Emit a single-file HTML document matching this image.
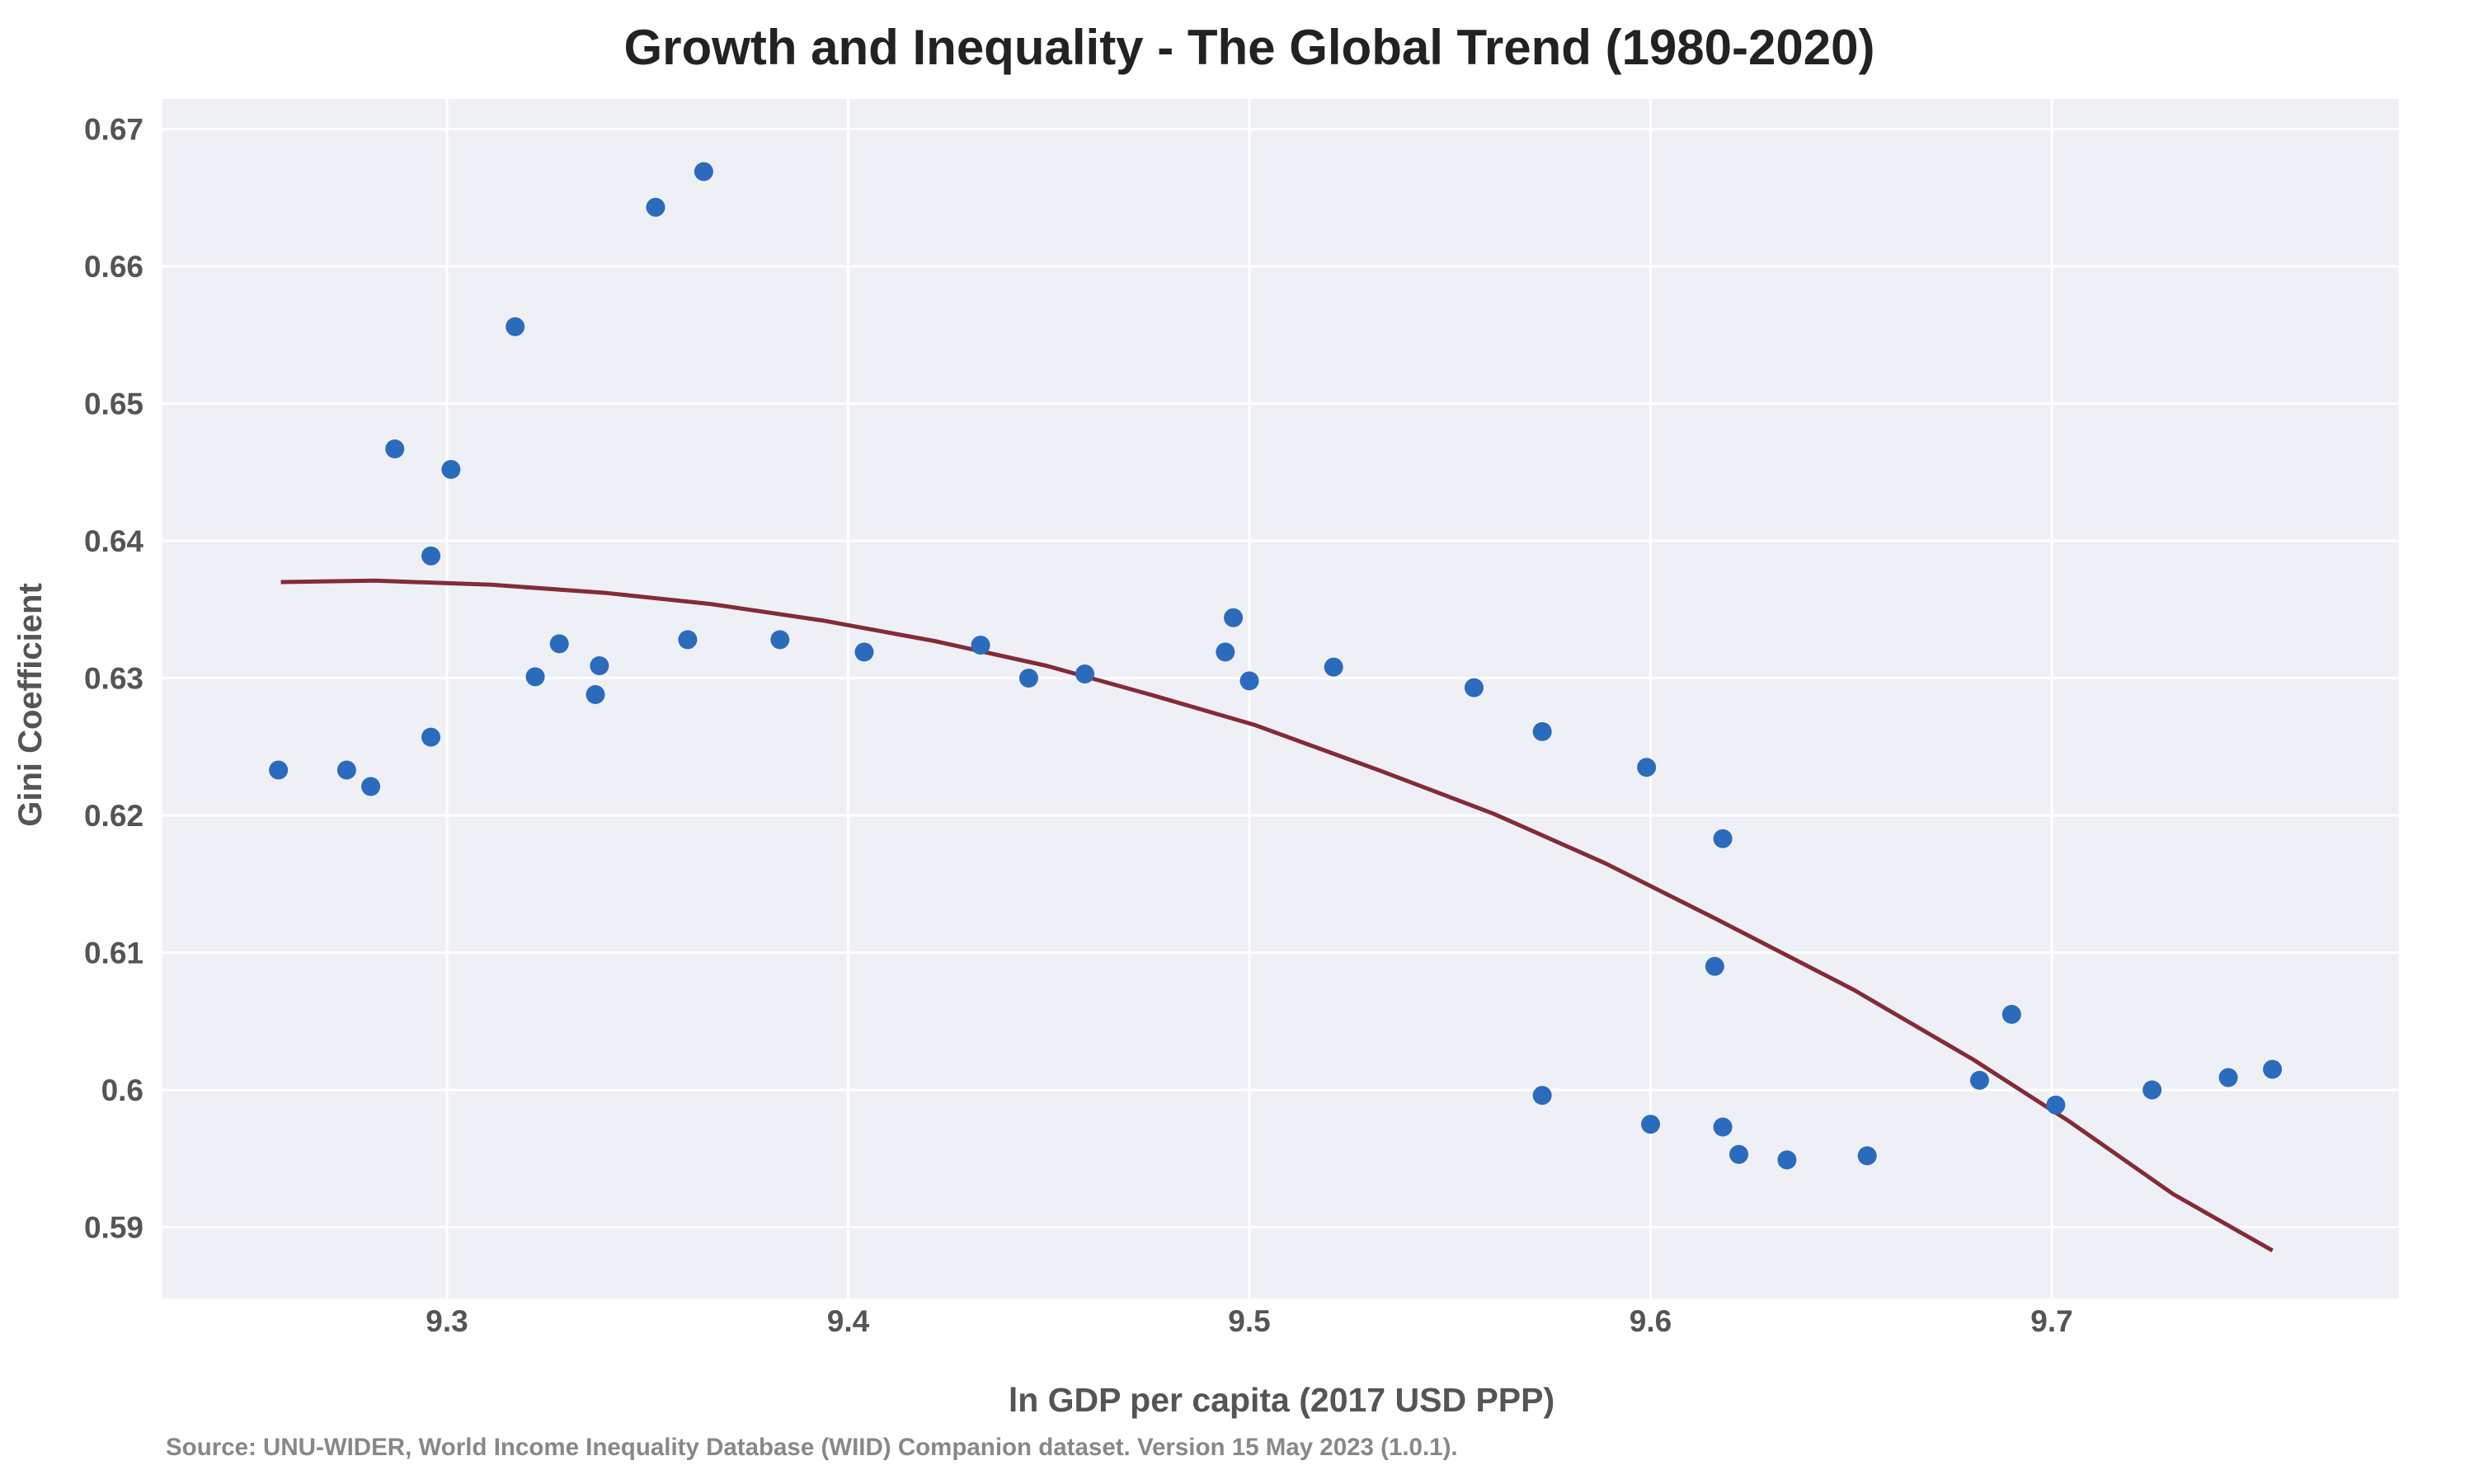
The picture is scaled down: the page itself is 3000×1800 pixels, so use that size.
<!DOCTYPE html>
<html><head><meta charset="utf-8"><style>
html,body{margin:0;padding:0;background:#fff}
svg{display:block;font-family:"Liberation Sans",Arial,sans-serif}
</style></head><body>
<svg id="chart" width="3000" height="1800" viewBox="0 0 3000 1800" xmlns="http://www.w3.org/2000/svg">
<text x="1515" y="78" text-anchor="middle" font-size="60" font-weight="bold" fill="#222">Growth and Inequality - The Global Trend (1980-2020)</text>
<rect x="197" y="120" width="2712" height="1455" fill="#eef0f5"/>
<g id="grid"></g>
<g id="ticks"></g>
<g id="trend"></g>
<g id="points"></g>
<text x="1554" y="1712" text-anchor="middle" font-size="41" font-weight="bold" fill="#555">ln GDP per capita (2017 USD PPP)</text>
<text transform="translate(50,855) rotate(-90)" text-anchor="middle" font-size="40" font-weight="bold" fill="#555">Gini Coefficient</text>
<text x="201" y="1765" font-size="29.5" font-weight="bold" fill="#888">Source: UNU-WIDER, World Income Inequality Database (WIID) Companion dataset. Version 15 May 2023 (1.0.1).</text>
</svg>
<script>
const xTicks = [9.3, 9.4, 9.5, 9.6, 9.7];
const xTickLabels = ["9.3", "9.4", "9.5", "9.6", "9.7"];
const yTicks = [0.59, 0.60, 0.61, 0.62, 0.63, 0.64, 0.65, 0.66, 0.67];
const yTickLabels = ["0.59", "0.6", "0.61", "0.62", "0.63", "0.64", "0.65", "0.66", "0.67"];
const gdpValues = [9.258,9.275,9.281,9.287,9.296,9.296,9.301,9.317,9.322,9.328,9.337,9.338,9.352,9.360,9.364,9.383,9.404,9.433,9.445,9.459,9.494,9.496,9.500,9.521,9.556,9.573,9.573,9.599,9.600,9.616,9.618,9.618,9.622,9.634,9.654,9.682,9.690,9.701,9.725,9.744,9.755];
const giniValues = [0.6233,0.6233,0.6221,0.6467,0.6389,0.6257,0.6452,0.6556,0.6301,0.6325,0.6288,0.6309,0.6643,0.6328,0.6669,0.6328,0.6319,0.6324,0.6300,0.6303,0.6319,0.6344,0.6298,0.6308,0.6293,0.6261,0.5996,0.6235,0.5975,0.6090,0.6183,0.5973,0.5953,0.5949,0.5952,0.6007,0.6055,0.5989,0.6000,0.6009,0.6015];
const trendX = [9.2586,9.2821,9.3112,9.3398,9.3657,9.3936,9.4215,9.4494,9.4753,9.5012,9.5331,9.5610,9.5888,9.6167,9.6506,9.6805,9.7044,9.7303,9.7550];
const trendY = [0.6370,0.6371,0.6368,0.6362,0.6354,0.6342,0.6327,0.6309,0.6288,0.6266,0.6232,0.6201,0.6165,0.6124,0.6073,0.6022,0.5977,0.5924,0.5883];

const NS = "http://www.w3.org/2000/svg";
const PL = 197, PR = 2909, PT = 120, PB = 1575;
const X0 = 9.3, XPX0 = 542, XS = 4865;
const Y0 = 0.67, YPX0 = 156.5, YS = 16650;
function xs(v){ return XPX0 + (v - X0) * XS; }
function ys(v){ return YPX0 + (Y0 - v) * YS; }
function mk(tag, attrs, parent){ const e = document.createElementNS(NS, tag); for (const k in attrs) e.setAttribute(k, attrs[k]); parent.appendChild(e); return e; }

const grid = document.getElementById('grid');
const ticks = document.getElementById('ticks');
xTicks.forEach((v, i) => {
  const l = mk('line', {x1: xs(v), x2: xs(v), y1: PT, y2: PB, stroke: '#fff', 'stroke-width': 3}, grid);
  
  
  const t = mk('text', {x: xs(v), y: 1615, 'text-anchor': 'middle', 'font-size': 37, 'font-weight': 'bold', fill: '#555'}, ticks);
  t.textContent = xTickLabels[i];
  
  
});
yTicks.forEach((v, i) => {
  const l = mk('line', {x1: PL, x2: PR, y1: ys(v), y2: ys(v), stroke: '#fff', 'stroke-width': 3}, grid);
  
  
  const t = mk('text', {x: 174, y: ys(v) + 13, 'text-anchor': 'end', 'font-size': 37, 'font-weight': 'bold', fill: '#555'}, ticks);
  t.textContent = yTickLabels[i];
  
  
});

const pts = document.getElementById('points');
gdpValues.forEach((v, i) => {
  const c = mk('circle', {cx: xs(v), cy: ys(giniValues[i]), r: 11.5, fill: '#2b6bbd'}, pts);
  
  
});

const trend = document.getElementById('trend');
const d = trendX.map((v, i) => (i ? 'L' : 'M') + xs(v).toFixed(1) + ',' + ys(trendY[i]).toFixed(1)).join(' ');
const p = mk('path', {d: d, fill: 'none', stroke: '#852a36', 'stroke-width': 5, 'stroke-linejoin': 'round'}, trend);


</script>
</body></html>
